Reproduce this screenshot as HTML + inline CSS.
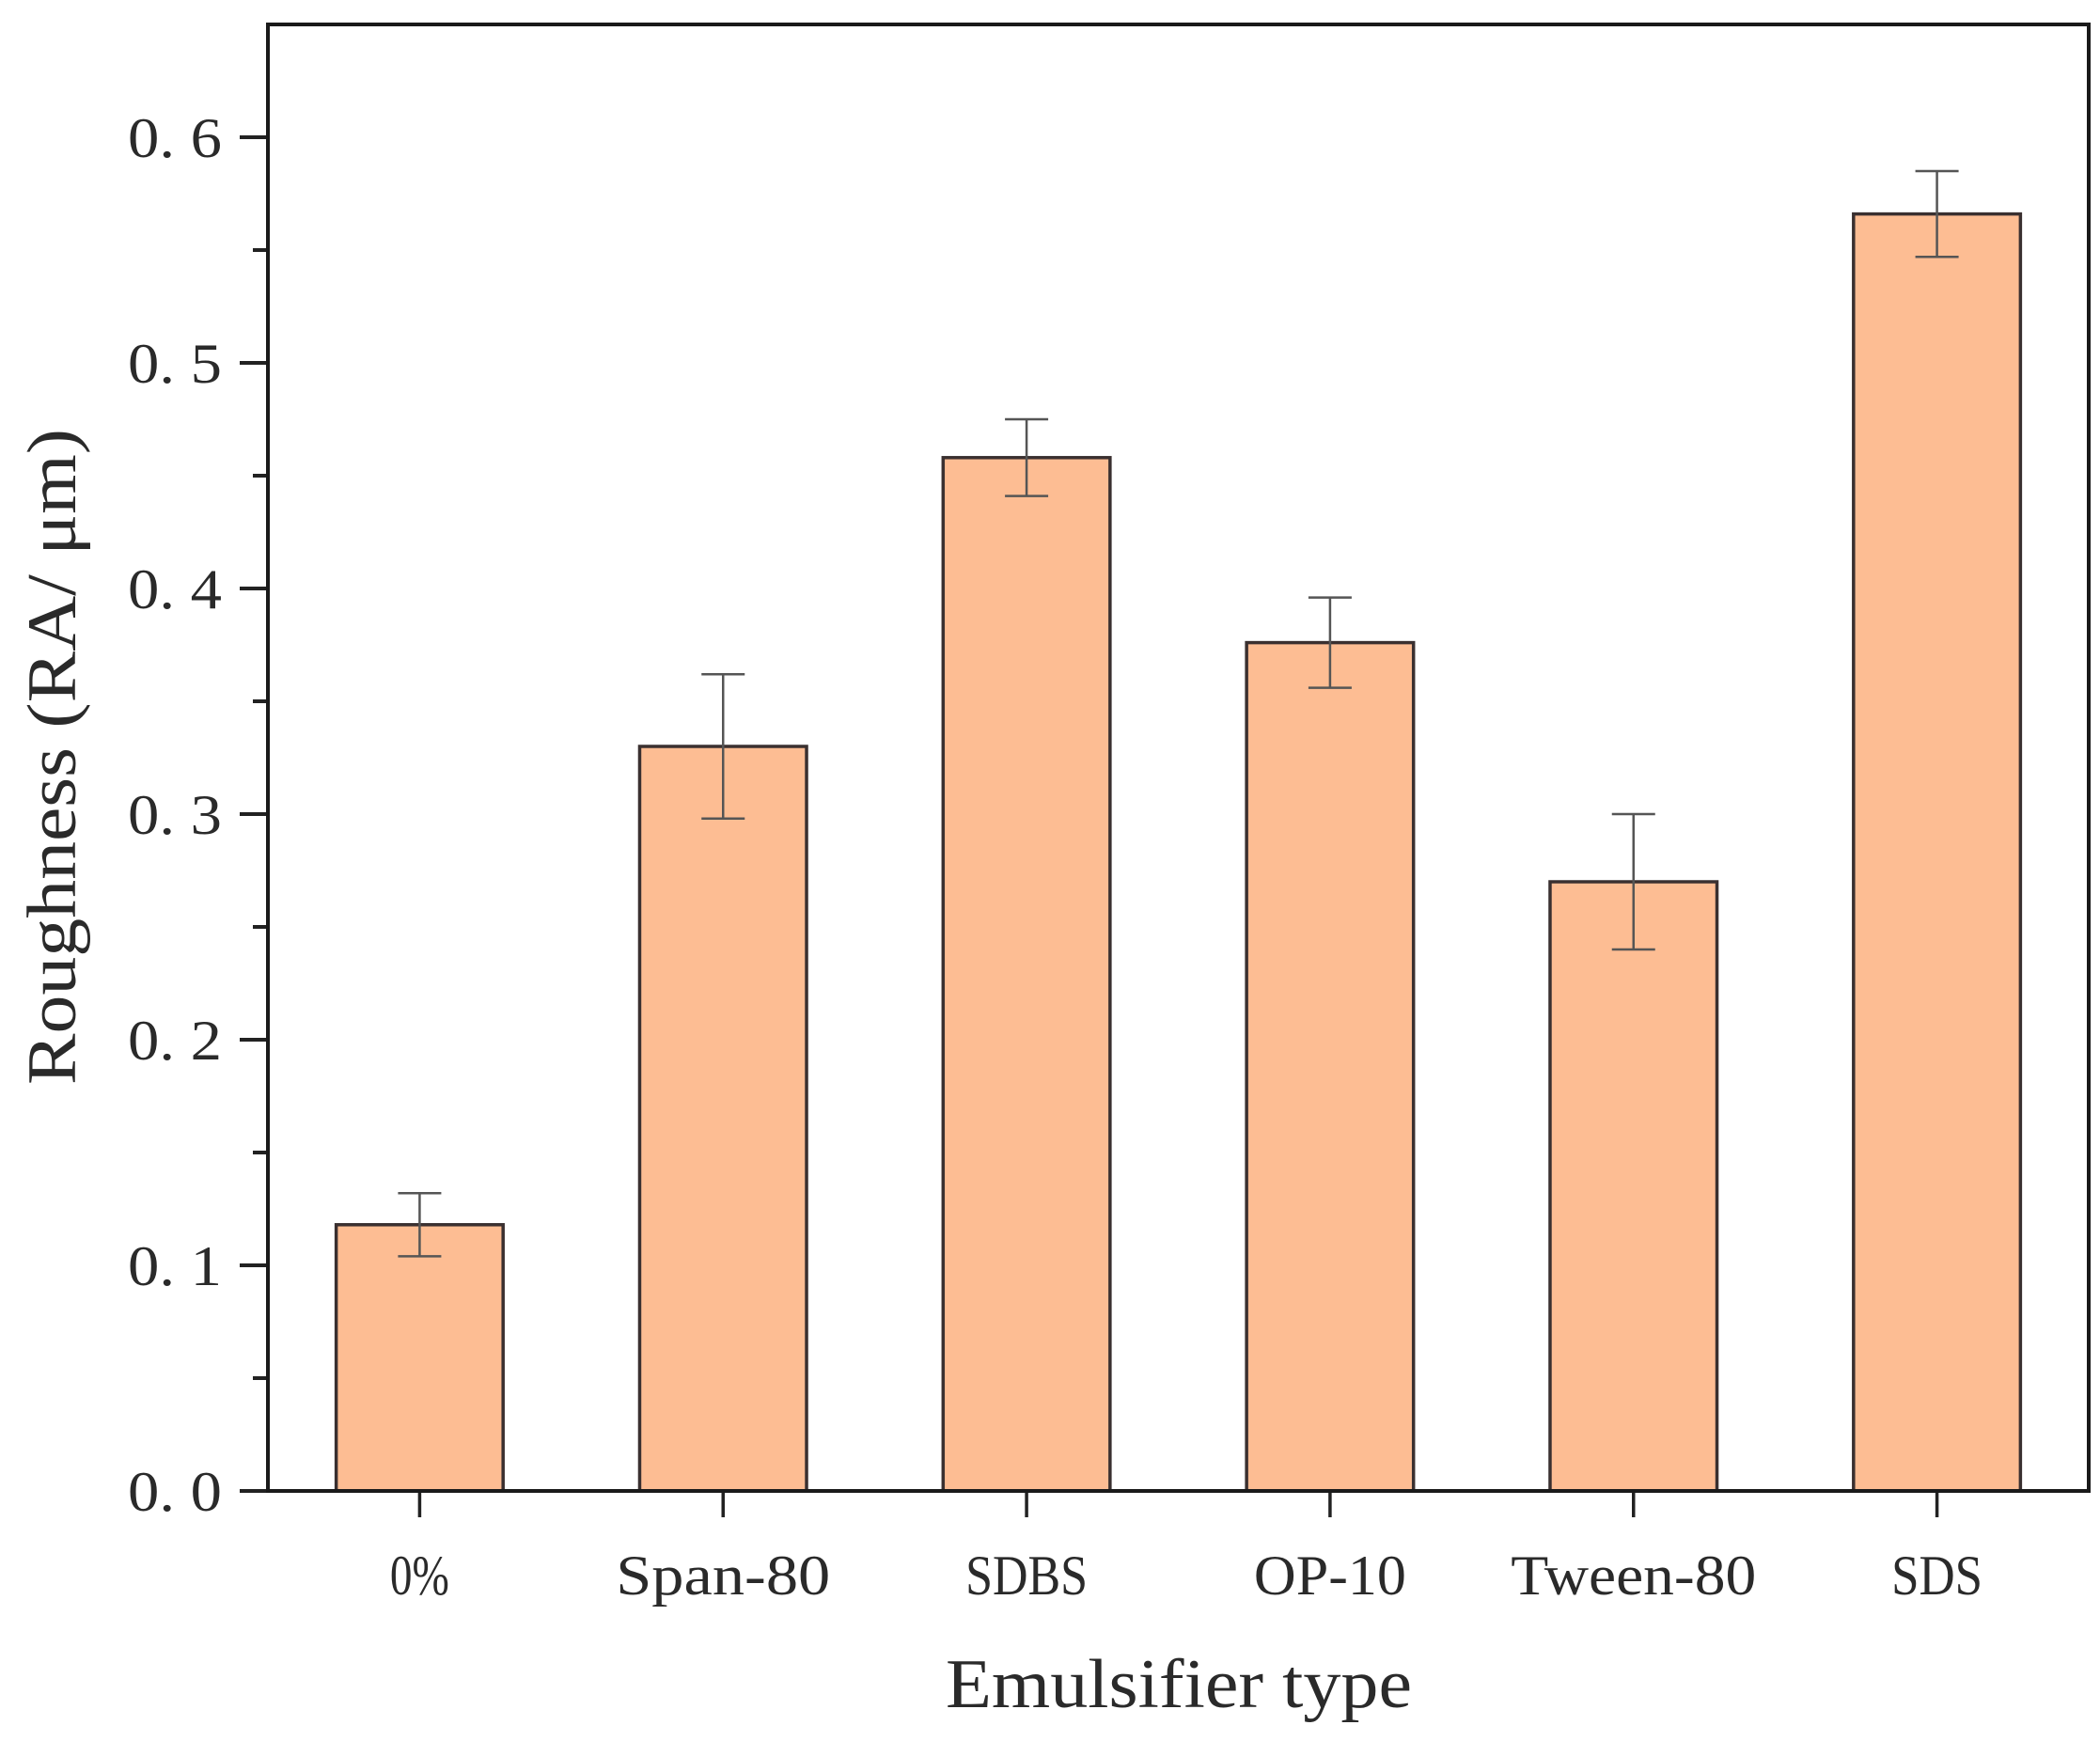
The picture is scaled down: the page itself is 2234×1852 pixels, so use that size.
<!DOCTYPE html>
<html><head><meta charset="utf-8"><style>
html,body{margin:0;padding:0;background:#fff;}
svg{display:block;}
text{font-family:"Liberation Serif","Noto Serif CJK SC",serif;fill:#2a2a2a;}
</style></head><body>
<svg id="chart" width="2234" height="1852" viewBox="0 0 2234 1852" xmlns="http://www.w3.org/2000/svg">
<g id="plot"></g>
</svg>
<script>
const categories = ["0%", "Span-80", "SDBS", "OP-10", "Tween-80", "SDS"];
const values = [0.118, 0.330, 0.458, 0.376, 0.270, 0.566];
const errors = [0.014, 0.032, 0.017, 0.020, 0.030, 0.019];
const yTicks = [0.0, 0.1, 0.2, 0.3, 0.4, 0.5, 0.6];
const yTickLabels = ["0. 0", "0. 1", "0. 2", "0. 3", "0. 4", "0. 5", "0. 6"];
const yMinorTicks = [0.05, 0.15, 0.25, 0.35, 0.45, 0.55];
const labelWidths = [63, 228, 130, 162, 261, 97];

const L = 285, R = 2222, T = 26, B = 1586, yMax = 0.65;
const NS = "http://www.w3.org/2000/svg";
const g = document.getElementById('plot');
const band = (R - L) / categories.length;
function xScale(i){ return L + band * (i + 0.5); }
function yScale(v){ return B - (v / yMax) * (B - T); }
function mk(tag, attrs){ const e = document.createElementNS(NS, tag); for (const k in attrs) e.setAttribute(k, attrs[k]); g.appendChild(e); return e; }

const bw = band * 0.55;
categories.forEach((c, i) => {
  const x = xScale(i), y = yScale(values[i]);
  const r = mk('rect', {x: x - bw/2, y: y, width: bw, height: B - y, fill: '#FDBD93', stroke: '#3a3030', 'stroke-width': 3.5});
  
  
  const yt = yScale(values[i] + errors[i]), yb = yScale(values[i] - errors[i]);
  const eg = document.createElementNS(NS, 'g');
  
  
  eg.setAttribute('stroke', '#555'); eg.setAttribute('stroke-width', '2.5');
  g.appendChild(eg);
  [[x, yt, x, yb], [x - 23, yt, x + 23, yt], [x - 23, yb, x + 23, yb]].forEach(p => {
    const l = document.createElementNS(NS, 'line');
    l.setAttribute('x1', p[0]); l.setAttribute('y1', p[1]); l.setAttribute('x2', p[2]); l.setAttribute('y2', p[3]);
    eg.appendChild(l);
  });
  const tk = mk('line', {x1: x, y1: B, x2: x, y2: B + 28, stroke: '#222', 'stroke-width': 3.5});
  
  
  const t = mk('text', {x: x, y: 1696, 'text-anchor': 'middle', 'font-size': 60, textLength: labelWidths[i], lengthAdjust: 'spacingAndGlyphs'});
  t.textContent = c;
  
  
});

yTicks.forEach((v, i) => {
  const y = yScale(v);
  const tk = mk('line', {x1: L - 30, y1: y, x2: L, y2: y, stroke: '#222', 'stroke-width': 4});
  
  
  const t = mk('text', {x: 236, y: y + 21, 'text-anchor': 'end', 'font-size': 60, textLength: 100, lengthAdjust: 'spacingAndGlyphs'});
  t.textContent = yTickLabels[i];
  
  
});
yMinorTicks.forEach(v => {
  const y = yScale(v);
  const tk = mk('line', {x1: L - 16, y1: y, x2: L, y2: y, stroke: '#222', 'stroke-width': 4});
  
  
});

const fr = mk('rect', {x: L, y: T, width: R - L, height: B - T, fill: 'none', stroke: '#1a1a1a', 'stroke-width': 4});



const xt = mk('text', {x: 1254, y: 1816, 'text-anchor': 'middle', 'font-size': 74, textLength: 496, lengthAdjust: 'spacingAndGlyphs'});
xt.textContent = 'Emulsifier type';


const ytl = mk('text', {x: 0, y: 0, 'text-anchor': 'middle', 'font-size': 74, textLength: 698, lengthAdjust: 'spacingAndGlyphs', transform: 'translate(80 805) rotate(-90)'});
ytl.textContent = 'Roughness (RA/ μm)';


</script>
</body></html>
